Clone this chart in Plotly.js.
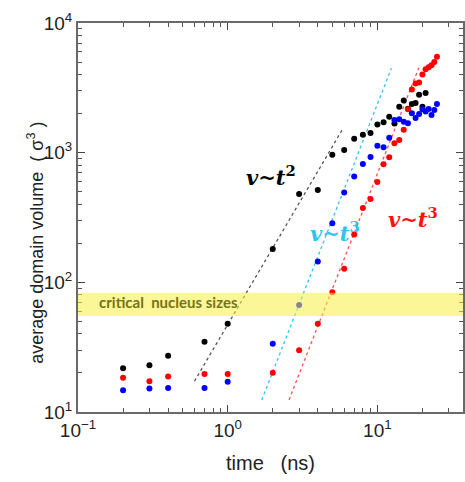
<!DOCTYPE html>
<html>
<head>
<meta charset="utf-8">
<script src="https://cdn.plot.ly/plotly-3.0.1.min.js"></script>
<style>html,body{margin:0;padding:0;background:#fff;}#chart{width:465px;height:482px;}</style>
</head>
<body>
<div id="chart"></div>
<script>
// time points (ns)
const timesEarly = [0.2, 0.3, 0.4, 0.7, 1, 2, 3, 4, 5, 6, 7, 8, 9, 10];
const timesBlack = timesEarly.concat([11, 12, 13, 14, 15, 16, 17, 18, 19, 20, 21]);
const timesRed = timesEarly.concat([11, 12, 13, 14, 15, 16, 17, 18, 19, 20, 21, 22, 23, 24, 25]);
const timesBlue = timesEarly.concat([11, 12, 13, 14, 15, 16, 17, 18, 19, 20, 21, 22, 23, 24, 25]);

// average domain volume (sigma^3)
const volBlack = [21.7, 22.9, 27.2, 34.8, 48, 181, 480, 515, 964, 1047, 1279, 1374, 1416, 1652,
                  1720, 1890, 1680, 2260, 2530, 2180, 2370, 2420, 2800, 2260, 2880];
const volRed = [18.4, 17.3, 18.8, 19.6, 19.6, 20.1, 30, 48, 84, 127, 234, 374, 439, 593,
                813, 920, 1180, 1251, 1503, 2160, 3076, 3420, 3480, 4000, 4400, 4550, 4730, 5000, 5500];
const volBlue = [14.7, 15.2, 15.3, 15.3, 17.1, 33.6, 67, 145, 285, 492, 656, 817, 925, 1130,
                 1100, 1303, 1783, 1807, 1730, 1683, 2010, 1850, 1986, 2160, 2080, 2170, 1950, 2130, 2370];

// guide lines (end points)
const guideBlackT = [0.6, 5.9];
const guideBlackV = [17.3, 1540];
const guideCyanT = [1.69, 12.4];
const guideCyanV = [12.4, 4470];
const guideRedT = [2.57, 18.9];
const guideRedV = [12.4, 4510];

// critical nucleus size band
const criticalBand = [55, 83];

// tick labels
const xTickVals = [0.1, 1, 10];
const xTickText = ['10<sup>\u22121</sup>', '10<sup>0</sup>', '10<sup>1</sup>'];
const yTickVals = [10, 100, 1000, 10000];
const yTickText = ['10<sup>1</sup>', '10<sup>2</sup>', '10<sup>3</sup>', '10<sup>4</sup>'];

const labels = {
  band: "critical\u00a0\u00a0nucleus sizes",
  black: "<b><i>v~t</i><sup>2</sup></b>",
  cyan: "<b><i>v~t</i><sup>3</sup></b>",
  red: "<b><i>v~t</i><sup>3</sup></b>",
  xTitle: "time\u00a0\u00a0\u00a0(ns)",
  yTitle: "average domain volume\u00a0\u00a0( \u03c3<sup>3</sup> )"
};

const traces = [
  {x: guideBlackT, y: guideBlackV, mode: 'lines', line: {color: '#555', width: 1.3, dash: 'dot'}, hoverinfo: 'skip'},
  {x: guideCyanT, y: guideCyanV, mode: 'lines', line: {color: '#2ec4f2', width: 1.3, dash: 'dot'}, hoverinfo: 'skip'},
  {x: guideRedT, y: guideRedV, mode: 'lines', line: {color: '#ff5050', width: 1.3, dash: 'dot'}, hoverinfo: 'skip'},
  {x: timesBlack, y: volBlack, mode: 'markers', marker: {color: '#000', size: 6}},
  {x: timesRed, y: volRed, mode: 'markers', marker: {color: '#ff0000', size: 6}},
  {x: timesBlue, y: volBlue, mode: 'markers', marker: {color: '#0000ff', size: 6}}
];

const font = 'Liberation Sans, Arial, sans-serif';

const axisCommon = {
  type: 'log',
  showgrid: false,
  zeroline: false,
  showline: true,
  linecolor: '#6a6a6a',
  linewidth: 2,
  mirror: 'ticks',
  ticks: 'inside',
  ticklen: 7,
  tickwidth: 1.3,
  tickcolor: '#444',
  tickmode: 'array',
  tickfont: {family: font, size: 19, color: '#222'},
  minor: {ticks: 'inside', ticklen: 4, tickwidth: 1, tickcolor: '#555', dtick: 'D1', showgrid: false}
};

const layout = {
  width: 465, height: 482,
  margin: {l: 78, r: 2, t: 23, b: 70},
  paper_bgcolor: '#fff', plot_bgcolor: '#fff',
  showlegend: false,
  xaxis: Object.assign({}, axisCommon, {
    range: [-1, 1.572],
    tickvals: xTickVals, ticktext: xTickText,
    title: {text: labels.xTitle, font: {family: font, size: 20, color: '#222'}, standoff: 16}
  }),
  yaxis: Object.assign({}, axisCommon, {
    range: [1, 4],
    tickvals: yTickVals, ticktext: yTickText
  }),
  shapes: [{
    type: 'rect', xref: 'paper', yref: 'y', x0: 0, x1: 1,
    y0: criticalBand[0], y1: criticalBand[1],
    fillcolor: 'rgb(247,240,70)', opacity: 0.55, line: {width: 0}, layer: 'above'
  }],
  annotations: [
    {xref: 'paper', yref: 'paper', x: -0.11, y: 0.434, xanchor: 'center', yanchor: 'middle',
     textangle: -90, text: labels.yTitle, showarrow: false,
     font: {family: font, size: 18, color: '#222'}},
    {xref: 'paper', yref: 'paper', x: 0.234, y: 0.283, xanchor: 'center', yanchor: 'middle',
     text: '<b>' + labels.band + '</b>', showarrow: false,
     font: {family: 'Lato, Open Sans, sans-serif', size: 15, color: '#747418'}},
    {xref: 'paper', yref: 'paper', x: 0.501, y: 0.606, xanchor: 'center', yanchor: 'middle',
     text: labels.black, showarrow: false,
     font: {family: 'DejaVu Serif, serif', size: 21, color: '#000'}},
    {xref: 'paper', yref: 'paper', x: 0.667, y: 0.462, xanchor: 'center', yanchor: 'middle',
     text: labels.cyan, showarrow: false,
     font: {family: 'DejaVu Serif, serif', size: 21, color: '#2ec4f2'}},
    {xref: 'paper', yref: 'paper', x: 0.87, y: 0.5, xanchor: 'center', yanchor: 'middle',
     text: labels.red, showarrow: false,
     font: {family: 'DejaVu Serif, serif', size: 21, color: '#ff1010'}}
  ]
};

Plotly.newPlot('chart', traces, layout, {displayModeBar: false, staticPlot: true});
</script>
</body>
</html>
